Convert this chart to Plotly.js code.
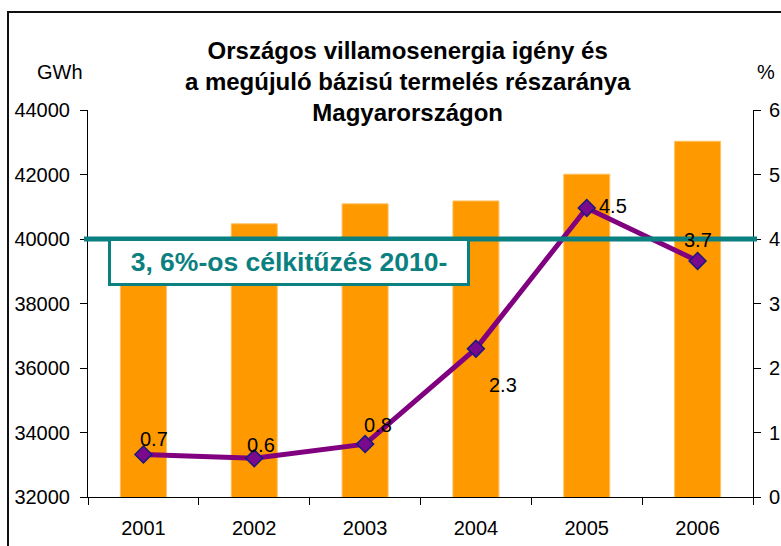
<!DOCTYPE html>
<html>
<head>
<meta charset="utf-8">
<script src="https://cdn.plot.ly/plotly-3.0.1.min.js"></script>
<style>
  html, body { margin: 0; padding: 0; background: #fff; overflow: hidden; }
  #frame { position: absolute; left: 7px; top: 11px; width: 900px; height: 700px; border: 2px solid #111; box-sizing: border-box; }
  #chart { position: absolute; left: 0; top: 0; width: 781px; height: 546px; }
</style>
</head>
<body>
<div id="frame"></div>
<div id="chart"></div>
<script>
// ---- data ----
const years = ['2001', '2002', '2003', '2004', '2005', '2006'];
const demandGWh = [39700, 40470, 41090, 41180, 42010, 43030];
const renewableSharePct = [0.66, 0.6, 0.82, 2.3, 4.48, 3.66];
const targetGWh = 40000;
const targetLabel = '3, 6%-os célkitűzés 2010-';
const leftTicks = [32000, 34000, 36000, 38000, 40000, 42000, 44000];
const rightTicks = [0, 1, 2, 3, 4, 5, 6];
const titleLines = ['Országos villamosenergia igény és', 'a megújuló bázisú termelés részaránya', 'Magyarországon'];
const leftUnit = 'GWh';
const rightUnit = '%';

// label placement offsets (pixels) for the share labels
const labelShiftX = [11, 7, 13, 27, 26, 0];
const labelShiftY = [15, 13, 19, -36, 2, 21];

const FONT = 'Arial, "Liberation Sans", sans-serif';
const TEAL = '#0A8080';
const boundaries = years.map((_, i) => i - 0.5).concat([years.length - 0.5]);

const traces = [
  {
    type: 'bar', x: years, y: demandGWh, xaxis: 'x', yaxis: 'y',
    marker: { color: '#FF9900', line: { color: '#FFC060', width: 1 } },
    hoverinfo: 'skip', showlegend: false
  },
  {
    type: 'scatter', mode: 'lines+markers', x: years, y: renewableSharePct,
    xaxis: 'x', yaxis: 'y2',
    line: { color: '#800080', width: 5 },
    marker: { symbol: 'diamond', size: 13, color: '#7A0A8C', line: { color: '#1A1A80', width: 1.5 } },
    cliponaxis: false, showlegend: false, hoverinfo: 'skip'
  }
];

const tickFont = { family: FONT, size: 20, color: '#000' };

// on a category axis, annotations take the category index
const valueLabels = years.map((yr, i) => ({
  text: renewableSharePct[i].toFixed(1), xref: 'x', yref: 'y2',
  x: i, y: renewableSharePct[i], xanchor: 'center', yanchor: 'middle',
  xshift: labelShiftX[i], yshift: labelShiftY[i], showarrow: false,
  font: { family: FONT, size: 20, color: '#000' }
}));

const layout = {
  width: 781, height: 546,
  margin: { l: 88, r: 28, t: 110, b: 49 },
  paper_bgcolor: 'rgba(0,0,0,0)', plot_bgcolor: 'rgba(0,0,0,0)',
  bargap: 0.585,
  showlegend: false,
  title: {
    text: titleLines.join('<br>'),
    font: { family: FONT, size: 24, color: '#000', weight: 'bold' },
    x: 0.522, xanchor: 'center', xref: 'container',
    y: 1 - 59 / 546, yanchor: 'top', yref: 'container'
  },
  xaxis: {
    type: 'category', range: [-0.5, years.length - 0.5],
    tickson: 'boundaries', ticks: 'outside', ticklen: 7, tickcolor: '#000', tickwidth: 1,
    showline: true, linecolor: '#000', linewidth: 1, showgrid: false, zeroline: false,
    tickfont: tickFont, ticklabelstandoff: 13
  },
  xaxis2: {
    overlaying: 'x', anchor: 'y', side: 'bottom', type: 'linear',
    range: [-0.5, years.length - 0.5], tickmode: 'array', tickvals: boundaries,
    ticks: 'inside', ticklen: 7, tickcolor: '#000', tickwidth: 1,
    showticklabels: false, showline: false, showgrid: false, zeroline: false
  },
  yaxis: {
    range: [leftTicks[0], leftTicks[leftTicks.length - 1]],
    tickmode: 'array', tickvals: leftTicks, tickformat: 'd',
    ticks: 'outside', ticklen: 7, tickcolor: '#000', tickwidth: 1,
    showline: true, linecolor: '#000', linewidth: 1, showgrid: false, zeroline: false,
    tickfont: tickFont, ticklabelstandoff: 6
  },
  yaxis2: {
    overlaying: 'y', side: 'right', anchor: 'x',
    range: [rightTicks[0], rightTicks[rightTicks.length - 1]],
    tickmode: 'array', tickvals: rightTicks,
    ticks: 'outside', ticklen: 7, tickcolor: '#000', tickwidth: 1,
    showline: true, linecolor: '#000', linewidth: 1, showgrid: false, zeroline: false,
    tickfont: tickFont, ticklabelstandoff: 4
  },
  yaxis3: {
    overlaying: 'y', side: 'left', anchor: 'x',
    range: [leftTicks[0], leftTicks[leftTicks.length - 1]],
    tickmode: 'array', tickvals: leftTicks,
    ticks: 'inside', ticklen: 7, tickcolor: '#000', tickwidth: 1,
    showticklabels: false, showline: false, showgrid: false, zeroline: false
  },
  yaxis4: {
    overlaying: 'y', side: 'right', anchor: 'x',
    range: [rightTicks[0], rightTicks[rightTicks.length - 1]],
    tickmode: 'array', tickvals: rightTicks,
    ticks: 'inside', ticklen: 7, tickcolor: '#000', tickwidth: 1,
    showticklabels: false, showline: false, showgrid: false, zeroline: false
  },
  shapes: [
    {
      type: 'line', layer: 'above', xref: 'paper', yref: 'y',
      x0: -0.006, x1: 1.006, y0: targetGWh, y1: targetGWh,
      line: { color: TEAL, width: 5 }
    }
  ],
  annotations: valueLabels.concat([
    {
      text: '<b>' + targetLabel + '</b>', xref: 'paper', yref: 'paper',
      x: 0.3023, y: 0.6085, xanchor: 'center', yanchor: 'middle', showarrow: false,
      width: 354, height: 40, borderpad: 1, borderwidth: 3, bordercolor: TEAL, bgcolor: '#fff',
      font: { family: FONT, size: 26.5, color: TEAL }
    },
    {
      text: leftUnit, xref: 'paper', yref: 'paper', x: -0.042, y: 1 + 38 / 387,
      xanchor: 'center', yanchor: 'middle', showarrow: false,
      font: { family: FONT, size: 20, color: '#000' }
    },
    {
      text: rightUnit, xref: 'paper', yref: 'paper', x: 1.02, y: 1 + 38 / 387,
      xanchor: 'center', yanchor: 'middle', showarrow: false,
      font: { family: FONT, size: 20, color: '#000' }
    }
  ])
};

Plotly.newPlot('chart', traces, layout, { staticPlot: true, displayModeBar: false });
</script>
</body>
</html>
